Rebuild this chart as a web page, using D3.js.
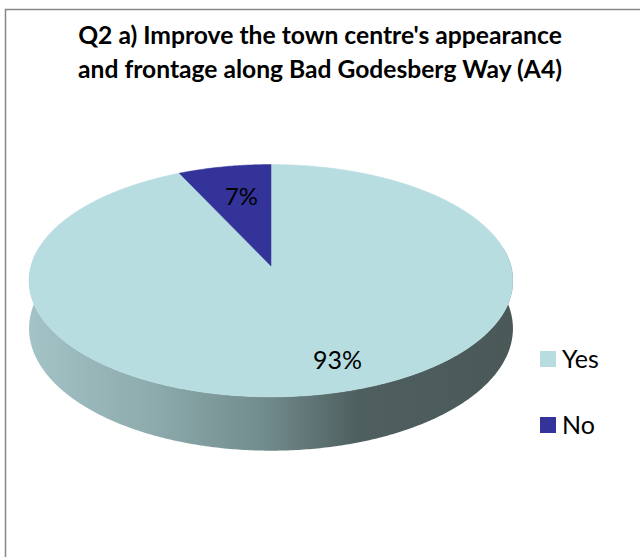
<!DOCTYPE html>
<html>
<head>
<meta charset="utf-8">
<script src="https://cdn.jsdelivr.net/npm/d3@7"></script>
<style>
  html, body { margin: 0; padding: 0; background: #fff; }
  svg { display: block; }
</style>
</head>
<body>
<svg id="chart" width="640" height="557"></svg>
<script>
// data
const categories = ['Yes', 'No'];
const values = [93, 7];
const colors = ['#b7dde0', '#333399'];
const titleLines = ["Q2 a) Improve the town centre's appearance", 'and frontage along Bad Godesberg Way (A4)'];

const svg = d3.select('#chart');
const font = 'Lato, "Open Sans", sans-serif';

// fit a text to a wanted width by changing its font size
function fitText(t, w){
	let len = t.node().getComputedTextLength();
	let fs = parseFloat(t.attr('font-size'));
	t.attr('font-size', fs * w / len);
}

// frame
svg.append('rect')
	.attr('x', 5.5).attr('y', 9.5)
	.attr('width', 700).attr('height', 700)
	.attr('fill', 'none')
	.attr('stroke', '#878787').attr('stroke-width', 1.5);

// title
let titleY = [44, 78];
titleLines.forEach((s, i) => {
	let t = svg.append('text')
		.attr('x', 320).attr('y', titleY[i])
		.attr('text-anchor', 'middle')
		.attr('font-family', font)
		.attr('font-weight', 'bold')
		.attr('font-size', 22)
		.attr('fill', '#000')
		.text(s);
	fitText(t, 484);
});

// 3d pie projection
let cx = 271, cy = 266;
let rx = 240, ry = 114.3, dist = 7.9, depth = 47;

function proj(a, z){
	let u = Math.sin(a), v = -Math.cos(a);
	let s = dist / (dist - v);
	return [cx + rx * u * s, cy + ry * v * s + z * depth * s];
}

function arcPts(a0, a1, z){
	let n = Math.max(2, Math.ceil(Math.abs(a1 - a0) / 0.01));
	let pts = [];
	for(let i=0; i<=n; i++){
		pts.push(proj(a0 + (a1 - a0) * i / n, z));
	}
	return pts;
}

let pie = d3.pie().sort(null).value(d => d)(values);
let line = d3.line();

// side gradient
let defs = svg.append('defs');
let grad = defs.append('linearGradient')
	.attr('id', 'side')
	.attr('gradientUnits', 'userSpaceOnUse')
	.attr('x1', 29).attr('x2', 513).attr('y1', 0).attr('y2', 0);
[[0, '#a3c3c6'], [0.25, '#8eabad'], [0.48, '#728d8e'], [0.68, '#4f5f5f'], [1, '#4a5858']]
	.forEach(s => grad.append('stop').attr('offset', s[0]).attr('stop-color', s[1]));

// side wall, only the front half shows
let a0 = Math.PI * 0.45, a1 = Math.PI * 1.55;
let side = arcPts(a0, a1, 0).concat(arcPts(a1, a0, 1));
svg.append('path')
	.attr('d', line(side) + 'Z')
	.attr('fill', 'url(#side)');

// top face
let apex = proj(0, 0);
pie.forEach((d, i) => {
	let pts = [[cx, cy]].concat(arcPts(d.startAngle, d.endAngle, 0));
	svg.append('path')
		.attr('d', line(pts) + 'Z')
		.attr('fill', colors[i])
		.attr('stroke', colors[i]).attr('stroke-width', 0.5);
});

// labels
let labelPos = [[337.5, 369, 49], [241.5, 205, 33]];
pie.forEach((d, i) => {
	let t = svg.append('text')
		.attr('x', labelPos[i][0]).attr('y', labelPos[i][1])
		.attr('text-anchor', 'middle')
		.attr('font-family', font)
		.attr('font-size', 26)
		.attr('fill', '#000')
		.text(d.data + '%');
	fitText(t, labelPos[i][2]);
});

// legend
let legendY = d3.scalePoint().domain(categories).range([351, 417]);
categories.forEach((c, i) => {
	let g = svg.append('g');
	g.append('rect')
		.attr('x', 540).attr('y', legendY(c))
		.attr('width', 16).attr('height', 16)
		.attr('fill', colors[i]);
	g.append('text')
		.attr('x', 562).attr('y', legendY(c) + 17)
		.attr('font-family', font)
		.attr('font-size', 25)
		.attr('fill', '#000')
		.text(c);
});
</script>
</body>
</html>
